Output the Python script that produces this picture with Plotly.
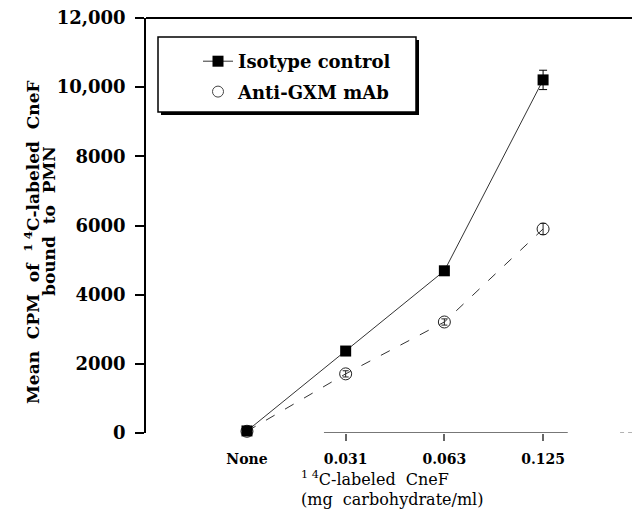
import plotly.graph_objects as go

# ---- data ----
categories = ["None", "0.031", "0.063", "0.125"]
cat_pos = [0, 1, 2, 3]
isotype_vals = [60, 2370, 4690, 10210]
isotype_err = [60, 90, 90, 280]
antigxm_vals = [50, 1710, 3210, 5900]
antigxm_err = [40, 90, 90, 160]
y_tickvals = [0, 2000, 4000, 6000, 8000, 10000, 12000]
y_ticktext = ["0", "2000", "4000", "6000", "8000", "10,000", "12,000"]

SERIF = "DejaVu Serif"
# page has an 8px body margin; figure is placed at (8, 8)
OX, OY = 8, 8
W, H = 640 - OX, 513 - OY
L, R, T, B = 146 - OX, 0, 18 - OY, 80
PW, PH = W - L - R, H - T - B


def px(x):  # page x -> paper
    return (x - OX - L) / PW


def py(y):  # page y -> paper
    return (OY + H - B - y) / PH


fig = go.Figure()

fig.add_trace(go.Scatter(
    x=cat_pos, y=antigxm_vals, name="Anti-GXM mAb", showlegend=False,
    mode="lines+markers",
    line=dict(color="#333333", width=1, dash="10px,12px"),
    marker=dict(symbol="circle-open", size=12, color="#222222", line=dict(width=1)),
    error_y=dict(type="data", array=antigxm_err, color="#222222", thickness=1, width=3),
    cliponaxis=False,
))
fig.add_trace(go.Scatter(
    x=cat_pos, y=isotype_vals, name="Isotype control", legendgroup="a",
    mode="lines+markers",
    line=dict(color="#333333", width=1),
    marker=dict(symbol="square", size=11, color="black"),
    error_y=dict(type="data", array=isotype_err, color="black", thickness=1, width=4),
    cliponaxis=False,
))
# legend-only entry for the open-circle symbol
fig.add_trace(go.Scatter(
    x=[None], y=[None], name="Anti-GXM mAb", mode="markers", legendgroup="b",
    marker=dict(symbol="circle-open", size=11, color="#444444", line=dict(width=1)),
))

shapes = [
    # legend shadow and box
    dict(type="rect", xref="paper", yref="paper", x0=px(161), x1=px(419), y0=py(115), y1=py(40),
         fillcolor="black", line=dict(width=0), layer="above"),
    dict(type="rect", xref="paper", yref="paper", x0=px(158), x1=px(416), y0=py(112), y1=py(37),
         fillcolor="white", line=dict(color="black", width=1.5), layer="above"),
    # top frame line
    dict(type="line", xref="paper", yref="paper", x0=0, x1=0.985, y0=1, y1=1,
         line=dict(color="black", width=2)),
    # x axis line (partial, as in the original)
    dict(type="line", xref="x", yref="y", x0=0.78, x1=3.25, y0=0, y1=0,
         line=dict(color="#777777", width=2)),
    dict(type="line", xref="x", yref="y", x0=3.78, x1=3.98, y0=0, y1=0,
         line=dict(color="#999999", width=1.5, dash="4px,4px")),
]

annotations = [
    dict(text="Mean\u00a0 CPM\u00a0 of\u00a0 <sup>1 4</sup>C-labeled\u00a0 CneF", textangle=-90,
         xref="paper", yref="paper", x=px(32), y=py(242), xanchor="center", yanchor="middle",
         showarrow=False, font=dict(family=SERIF, size=17, color="black", weight="bold")),
    dict(text="bound\u00a0 to\u00a0 PMN", textangle=-90,
         xref="paper", yref="paper", x=px(49), y=py(221), xanchor="center", yanchor="middle",
         showarrow=False, font=dict(family=SERIF, size=17, color="black", weight="bold")),
    dict(text="<sup>1 4</sup>C-labeled\u00a0 CneF",
         xref="paper", yref="paper", x=px(299), y=py(478), xanchor="left", yanchor="middle",
         showarrow=False, font=dict(family=SERIF, size=16, color="black")),
    dict(text="(mg\u00a0 carbohydrate/ml)",
         xref="paper", yref="paper", x=px(299), y=py(500), xanchor="left", yanchor="middle",
         showarrow=False, font=dict(family=SERIF, size=16, color="black")),
]

fig.update_layout(
    width=W, height=H,
    margin=dict(l=L, r=R, t=T, b=B, pad=0),
    paper_bgcolor="white", plot_bgcolor="white",
    showlegend=True,
    legend=dict(x=px(198), y=py(43), xanchor="left", yanchor="top",
                bgcolor="rgba(0,0,0,0)", borderwidth=0, itemwidth=30,
                font=dict(family=SERIF, size=18, color="black", weight="bold"),
                tracegroupgap=4),
    shapes=shapes,
    annotations=annotations,
    xaxis=dict(range=[-1.023, 3.982], showline=False, showgrid=False, zeroline=False,
               tickmode="array", tickvals=cat_pos, ticktext=categories, ticks="",
               ticklabelstandoff=16, ticklabeloverflow="allow",
               tickfont=dict(family=SERIF, size=14, color="black", weight="bold"),
               minor=dict(tickmode="array", tickvals=[1, 2, 3], ticks="outside", ticklen=7,
                          tickwidth=1.5, tickcolor="#666666")),
    yaxis=dict(range=[0, 12000], showline=True, linecolor="black", linewidth=1.5,
               showgrid=False, zeroline=False,
               tickmode="array", tickvals=y_tickvals, ticktext=y_ticktext,
               ticks="outside", ticklen=9, tickwidth=1.5, tickcolor="black",
               ticklabelstandoff=6, ticklabeloverflow="allow",
               tickfont=dict(family=SERIF, size=18, color="black", weight="bold")),
)

fig.write_html("out.html")
